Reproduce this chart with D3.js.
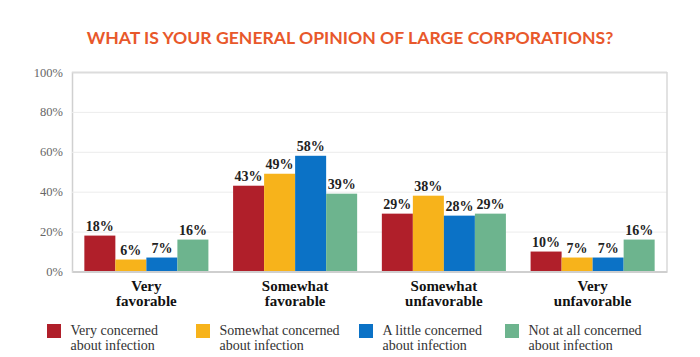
<!DOCTYPE html>
<html>
<head>
<meta charset="utf-8">
<script src="https://cdn.jsdelivr.net/npm/d3@7"></script>
<style>
  html, body { margin: 0; padding: 0; background: #fff; }
  svg { display: block; }
</style>
</head>
<body>
<svg id="chart" width="700" height="357"></svg>
<script>
const title = "WHAT IS YOUR GENERAL OPINION OF LARGE CORPORATIONS?";
const categories = [["Very", "favorable"], ["Somewhat", "favorable"], ["Somewhat", "unfavorable"], ["Very", "unfavorable"]];
const seriesNames = [["Very concerned", "about infection"], ["Somewhat concerned", "about infection"], ["A little concerned", "about infection"], ["Not at all concerned", "about infection"]];
const veryConcerned = [18, 43, 29, 10];
const somewhatConcerned = [6, 49, 38, 7];
const littleConcerned = [7, 58, 28, 7];
const notConcerned = [16, 39, 29, 16];
const yTicks = [0, 20, 40, 60, 80, 100];
const colors = ["#B01F2A", "#F7B31B", "#0B72C6", "#6DB48E"];

const series = [veryConcerned, somewhatConcerned, littleConcerned, notConcerned];
const svg = d3.select("#chart");
const plotLeft = 72, plotRight = 667, plotTop = 72, plotBottom = 271.5;

const x0 = d3.scaleBand().domain(d3.range(categories.length)).range([plotLeft, plotRight])
  .paddingInner(0.166).paddingOuter(0.083);
const x1 = d3.scaleBand().domain(d3.range(series.length)).range([0, x0.bandwidth()]);
const y = d3.scaleLinear().domain([0, 100]).range([plotBottom, plotTop]);

// Title
svg.append("text").attr("x", 350).attr("y", 43.5).attr("text-anchor", "middle")
  .attr("font-family", "Lato, sans-serif").attr("font-weight", 700).attr("font-size", 17.6)
  .attr("fill", "#E8582B").text(title);

// gridlines
const yAxis = d3.axisLeft(y).tickValues(yTicks).tickFormat(d => d + "%").tickSize(-(plotRight - plotLeft)).tickPadding(9);
const gy = svg.append("g").attr("transform", `translate(${plotLeft},0)`).call(yAxis);
gy.select(".domain").attr("stroke", "#d0d0d0").attr("stroke-width", 1.5);
gy.selectAll(".tick line").attr("stroke", "#ececec").attr("stroke-width", 1);
gy.selectAll(".tick").filter(d => d === 100).select("line").attr("stroke", "#dcdcdc").attr("stroke-width", 1.5);
gy.selectAll(".tick text").attr("font-family", "'Liberation Serif', serif").attr("font-size", 12.5).attr("fill", "#666");

// right border
svg.append("line").attr("x1", plotRight).attr("x2", plotRight).attr("y1", y(100)).attr("y2", y(0))
  .attr("stroke", "#d8d8d8").attr("stroke-width", 1.5);

// bars
const groups = svg.append("g").selectAll("g").data(categories).join("g")
  .attr("transform", (d, i) => `translate(${x0(i)},0)`);
groups.selectAll("rect").data((d, i) => series.map((s, j) => ({ j, v: s[i] }))).join("rect")
  .attr("x", d => x1(d.j)).attr("width", x1.bandwidth())
  .attr("y", d => y(d.v)).attr("height", d => y(0) - y(d.v))
  .attr("fill", d => colors[d.j]);
groups.selectAll("text.val").data((d, i) => series.map((s, j) => ({ j, v: s[i] }))).join("text")
  .attr("class", "val")
  .attr("x", d => x1(d.j) + x1.bandwidth() / 2).attr("y", d => y(d.v) - 5)
  .attr("text-anchor", "middle").attr("font-family", "'Liberation Serif', serif")
  .attr("font-weight", 700).attr("font-size", 14).attr("fill", "#222")
  .text(d => d.v + "%");

// x axis baseline
const xAxis = d3.axisBottom(x0).tickSize(0).tickFormat("");
const gx = svg.append("g").attr("transform", `translate(0,${y(0)})`).call(xAxis);
gx.select(".domain").attr("stroke", "#cfcfcf").attr("stroke-width", 2);

// category labels
groups.append("text").attr("x", x0.bandwidth() / 2).attr("y", 291).attr("text-anchor", "middle")
  .attr("font-family", "'Liberation Serif', serif").attr("font-weight", 700).attr("font-size", 15).attr("fill", "#111")
  .selectAll("tspan").data(d => d).join("tspan")
  .attr("x", x0.bandwidth() / 2).attr("dy", (d, i) => i ? 15 : 0).text(d => d);

// legend
const legendX = [47, 196, 359, 505];
const lg = svg.append("g").selectAll("g").data(seriesNames).join("g")
  .attr("transform", (d, i) => `translate(${legendX[i]},324)`);
lg.append("rect").attr("width", 14).attr("height", 14).attr("fill", (d, i) => colors[i]);
lg.append("text").attr("x", 23.5).attr("y", 10.8)
  .attr("font-family", "'Liberation Serif', serif").attr("font-size", 14).attr("fill", "#333")
  .selectAll("tspan").data(d => d).join("tspan")
  .attr("x", 23.5).attr("dy", (d, i) => i ? 15 : 0).text(d => d);
</script>
</body>
</html>
